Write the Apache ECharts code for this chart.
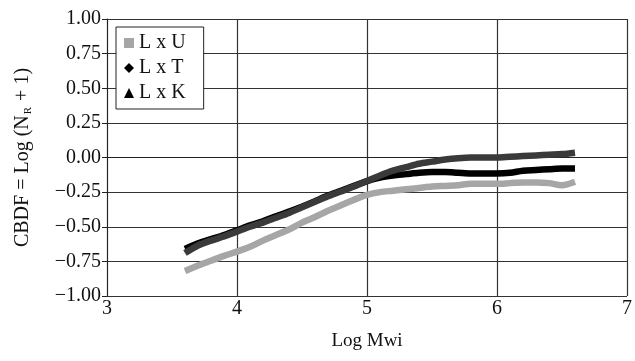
<!DOCTYPE html>
<html>
<head>
<meta charset="utf-8">
<script src="https://cdn.jsdelivr.net/npm/echarts@6/dist/echarts.min.js"></script>
<style>
  html, body { margin: 0; padding: 0; background: #fff; }
  #chart { width: 635px; height: 361px; }
</style>
</head>
<body>
<div id="chart"></div>
<script>
// Log Mwi positions
var logMwi = [3.6, 3.7, 3.8, 3.9, 4.0, 4.1, 4.2, 4.3, 4.4, 4.5, 4.6, 4.7, 4.8, 4.9, 5.0,
  5.1, 5.2, 5.3, 5.4, 5.5, 5.6, 5.7, 5.8, 5.9, 6.0, 6.1, 6.2, 6.3, 6.4, 6.5, 6.6];
// CBDF values
var lxU = [-0.82, -0.78, -0.745, -0.71, -0.68, -0.645, -0.6, -0.56, -0.52, -0.47, -0.43, -0.385, -0.345, -0.305, -0.27,
  -0.25, -0.24, -0.23, -0.22, -0.21, -0.205, -0.2, -0.19, -0.19, -0.19, -0.185, -0.18, -0.18, -0.185, -0.2, -0.175];
var lxT = [-0.66, -0.62, -0.59, -0.56, -0.525, -0.49, -0.46, -0.425, -0.39, -0.355, -0.315, -0.275, -0.24, -0.205, -0.17,
  -0.145, -0.13, -0.12, -0.11, -0.105, -0.105, -0.11, -0.115, -0.115, -0.115, -0.11, -0.095, -0.09, -0.085, -0.08, -0.08];
var lxK = [-0.69, -0.635, -0.6, -0.57, -0.535, -0.5, -0.47, -0.435, -0.4, -0.36, -0.32, -0.28, -0.245, -0.21, -0.17,
  -0.13, -0.095, -0.07, -0.045, -0.03, -0.015, -0.005, 0.0, 0.0, 0.0, 0.005, 0.01, 0.015, 0.02, 0.025, 0.035];
var seriesNames = ['L x U', 'L x T', 'L x K'];
var xTicks = [3, 7, 1];
var yTicks = [-1, 1, 0.25];

function pairs(vals) {
  return logMwi.map(function (x, i) { return [x, vals[i]]; });
}

var chart = echarts.init(document.getElementById('chart'));
var serif = 'Liberation Serif';
var ink = '#111';
var colors = ['#a6a6a6', '#000000', '#3a3a3a'];
var icons = ['rect', 'diamond', 'triangle'];
var allVals = [lxU, lxT, lxK];

chart.setOption({
  animation: false,
  textStyle: { fontFamily: serif, color: ink },
  grid: { left: 107, right: 4, top: 19, bottom: 65 },
  legend: {
    orient: 'vertical',
    left: 116,
    top: 27,
    backgroundColor: '#fff',
    borderColor: '#222',
    borderWidth: 1,
    borderRadius: 0,
    padding: [6, 18, 6, 8],
    itemGap: 5,
    itemWidth: 10,
    itemHeight: 10,
    textStyle: { fontFamily: serif, fontSize: 20, color: ink },
    data: seriesNames.map(function (n, i) {
      return { name: n, icon: icons[i], itemStyle: { color: i === 0 ? colors[0] : '#000' } };
    })
  },
  xAxis: {
    type: 'value',
    min: xTicks[0], max: xTicks[1], interval: xTicks[2],
    name: 'Log Mwi',
    nameLocation: 'middle',
    nameGap: 36,
    nameTextStyle: { fontFamily: serif, fontSize: 19, color: ink },
    axisLine: { lineStyle: { color: '#222', width: 1 } },
    axisTick: { show: false },
    axisLabel: { fontFamily: serif, fontSize: 20, color: ink, margin: 3 },
    splitLine: { show: true, lineStyle: { color: '#333', width: 1.2 } }
  },
  yAxis: {
    type: 'value',
    min: yTicks[0], max: yTicks[1], interval: yTicks[2],
    name: '{a|CBDF = Log (N}{s|R}{a| + 1)}',
    nameLocation: 'middle',
    nameGap: 73,
    nameTextStyle: {
      rich: {
        a: { fontFamily: serif, fontSize: 20, color: ink },
        s: { fontFamily: serif, fontSize: 11, color: ink, padding: [11, 1, 0, 1] }
      }
    },
    axisLine: { show: true, lineStyle: { color: '#222', width: 1 } },
    axisTick: { show: true, length: 5, lineStyle: { color: '#222' } },
    axisLabel: {
      fontFamily: serif, fontSize: 20, color: ink, margin: 6,
      formatter: function (v) { return v.toFixed(2).replace('-', '\u2212'); }
    },
    splitLine: { show: true, lineStyle: { color: '#333', width: 1.2 } }
  },
  series: seriesNames.map(function (n, i) {
    return {
      name: n,
      type: 'line',
      data: pairs(allVals[i]),
      showSymbol: false,
      symbol: icons[i],
      smooth: 0.3,
      lineStyle: { color: colors[i], width: 6.5 },
      itemStyle: { color: colors[i] },
      z: 2 + i
    };
  })
});
</script>
</body>
</html>
